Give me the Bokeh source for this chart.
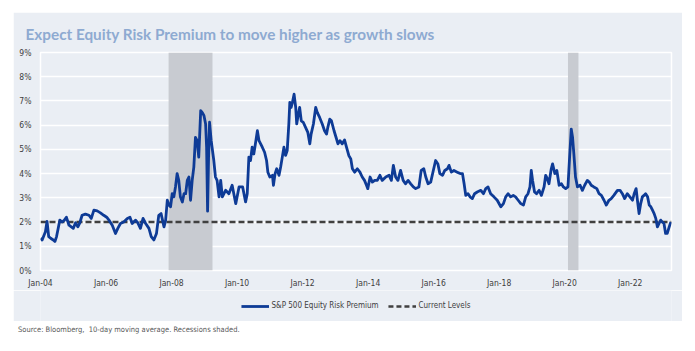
from bokeh.plotting import figure
from bokeh.models import Range1d, FixedTicker, Legend, LegendItem, Div
from bokeh.layouts import column
from bokeh.embed import file_html
from bokeh.resources import INLINE

# ---- data ----
erp_year = [
    2004.00, 2004.05, 2004.15, 2004.20, 2004.25, 2004.31, 2004.39, 2004.44, 2004.49, 2004.53,
    2004.59, 2004.66, 2004.73, 2004.79, 2004.87, 2004.94, 2005.00, 2005.07, 2005.14, 2005.20,
    2005.27, 2005.37, 2005.48, 2005.55, 2005.63, 2005.73, 2005.83, 2005.93, 2006.02, 2006.09,
    2006.19, 2006.29, 2006.36, 2006.44, 2006.54, 2006.65, 2006.73, 2006.80, 2006.90, 2006.97,
    2007.05, 2007.13, 2007.21, 2007.31, 2007.38, 2007.46, 2007.54, 2007.61, 2007.68, 2007.77,
    2007.82, 2007.87, 2007.92, 2007.97, 2008.02, 2008.07, 2008.12, 2008.17, 2008.22, 2008.27,
    2008.33, 2008.38, 2008.43, 2008.48, 2008.53, 2008.58, 2008.63, 2008.68, 2008.73, 2008.78,
    2008.83, 2008.89, 2008.94, 2008.99, 2009.04, 2009.07, 2009.10, 2009.13, 2009.16, 2009.21,
    2009.29, 2009.34, 2009.39, 2009.45,
    2009.50, 2009.55, 2009.65, 2009.75, 2009.85, 2009.96, 2010.06, 2010.17, 2010.26, 2010.31,
    2010.36, 2010.41, 2010.46, 2010.51, 2010.56, 2010.62, 2010.67, 2010.72, 2010.77, 2010.84,
    2010.90, 2010.94, 2011.00, 2011.08, 2011.11, 2011.16, 2011.21, 2011.28, 2011.33, 2011.38,
    2011.43, 2011.48, 2011.53, 2011.58, 2011.61, 2011.65, 2011.69, 2011.74, 2011.79, 2011.82,
    2011.87, 2011.91, 2011.96, 2012.02, 2012.09, 2012.16, 2012.22, 2012.26, 2012.33, 2012.40,
    2012.45, 2012.52, 2012.60, 2012.67, 2012.73, 2012.77, 2012.83, 2012.88, 2012.96, 2013.02,
    2013.08, 2013.14, 2013.21, 2013.28, 2013.34, 2013.41, 2013.47, 2013.52, 2013.59, 2013.67,
    2013.75, 2013.82, 2013.89, 2013.95, 2013.99, 2014.06, 2014.13, 2014.20, 2014.28, 2014.36,
    2014.43, 2014.54, 2014.64, 2014.71, 2014.77, 2014.84, 2014.91, 2014.99, 2015.07, 2015.14,
    2015.22, 2015.30, 2015.38, 2015.45, 2015.55, 2015.62, 2015.70, 2015.76, 2015.83, 2015.91,
    2015.99, 2016.06, 2016.13, 2016.19, 2016.27, 2016.34, 2016.42, 2016.47, 2016.54, 2016.62,
    2016.72, 2016.81,
    2016.88, 2016.93, 2016.98, 2017.05, 2017.11, 2017.18, 2017.25, 2017.33, 2017.44, 2017.52,
    2017.59, 2017.66, 2017.74, 2017.84, 2017.94, 2018.05, 2018.13, 2018.20, 2018.27, 2018.35,
    2018.43, 2018.50, 2018.58, 2018.66, 2018.74, 2018.81, 2018.88, 2018.94, 2018.98, 2019.02,
    2019.08, 2019.14, 2019.22, 2019.29, 2019.37, 2019.42, 2019.47, 2019.52, 2019.59, 2019.63,
    2019.70, 2019.76, 2019.83, 2019.90, 2019.96, 2020.03, 2020.10, 2020.15, 2020.20, 2020.24,
    2020.28, 2020.33, 2020.39, 2020.47, 2020.54, 2020.61, 2020.69, 2020.75, 2020.81, 2020.89,
    2020.98, 2021.05, 2021.12, 2021.20, 2021.27, 2021.35, 2021.42, 2021.50, 2021.61, 2021.69,
    2021.76, 2021.83, 2021.91, 2021.99, 2022.07, 2022.12, 2022.18, 2022.22, 2022.27, 2022.32,
    2022.37, 2022.42, 2022.47, 2022.53, 2022.58, 2022.63, 2022.68, 2022.73, 2022.78, 2022.83,
    2022.88, 2022.93, 2022.98, 2023.03, 2023.08, 2023.13, 2023.19, 2023.24,
]
erp_value = [
    1.33, 1.26, 1.60, 2.03, 1.40, 1.33, 1.26, 1.20, 1.40, 1.67,
    2.08, 2.00, 2.08, 2.20, 1.87, 1.80, 1.74, 1.97, 1.80, 1.97,
    2.28, 2.33, 2.28, 2.15, 2.49, 2.46, 2.38, 2.28, 2.20, 2.08,
    1.87, 1.53, 1.74, 1.94, 2.00, 2.15, 2.20, 1.94, 2.08, 1.97,
    1.74, 2.15, 1.94, 1.74, 1.40, 1.26, 1.53, 2.28, 2.35, 1.80,
    2.08, 2.90, 2.70, 2.63, 3.17, 3.04, 3.45, 4.00, 3.72, 3.04,
    2.83, 3.17, 3.17, 3.72, 3.86, 2.90, 3.72, 4.27, 5.50, 5.36,
    4.68, 6.60, 6.52, 6.39, 6.05, 5.09, 2.45, 4.68, 6.12, 5.36,
    4.54, 3.86, 3.72, 3.04,
    3.72, 3.04, 3.31, 3.17, 3.52, 2.76, 3.45, 3.45, 2.83, 3.17,
    4.68, 4.54, 5.09, 4.81, 5.23, 5.77, 5.36, 5.23, 5.09, 4.88,
    4.54, 4.06, 3.86, 3.93, 3.52, 4.00, 4.20, 3.93, 4.27, 4.68,
    5.09, 4.75, 4.95, 6.05, 6.94, 6.73, 6.94, 7.28, 6.73, 6.05,
    6.46, 6.73, 6.18, 6.12, 5.91, 5.70, 5.23, 5.63, 6.05, 6.73,
    6.52, 6.32, 6.05, 5.77, 5.63, 5.91, 6.25, 6.18, 5.77, 5.50,
    5.23, 5.36, 5.23, 5.39, 5.09, 4.75, 4.61, 4.20, 4.06, 4.20,
    4.06, 3.86, 3.72, 3.52, 3.38, 3.86, 3.65, 3.72, 3.72, 3.93,
    3.72, 3.86, 3.93, 3.72, 4.34, 3.86, 3.72, 4.13, 3.72, 3.58,
    3.72, 3.58, 3.45, 3.38, 3.45, 4.13, 4.20, 3.86, 3.58, 3.65,
    4.13, 4.54, 4.40, 4.00, 3.93, 4.13, 4.20, 4.34, 4.06, 4.13,
    4.06, 4.00,
    4.00, 3.58, 3.10, 3.17, 3.04, 2.97, 3.17, 3.24, 3.31, 3.17,
    3.38, 3.45, 3.17, 3.04, 2.90, 2.63, 2.76, 3.04, 3.17, 3.04,
    3.10, 3.04, 2.90, 2.76, 2.70, 3.04, 3.17, 3.45, 4.13, 3.72,
    3.24, 3.17, 3.31, 3.10, 3.45, 3.93, 3.79, 3.58, 4.20, 4.40,
    4.00, 4.13, 3.52, 3.58, 3.45, 3.38, 3.45, 4.68, 5.84, 5.50,
    4.81, 3.86, 3.45, 3.52, 3.31, 3.52, 3.72, 3.65, 3.52, 3.45,
    3.38, 3.17, 3.10, 2.90, 2.70, 2.90, 2.97, 3.10, 3.31, 3.31,
    3.17, 2.97, 3.17, 3.04, 2.90, 3.17, 3.38, 2.90, 2.35, 2.76,
    3.04, 3.10, 3.17, 3.04, 2.70, 2.63, 2.49, 2.35, 2.15, 1.80,
    1.94, 2.08, 2.00, 1.94, 1.53, 1.53, 1.80, 2.00,
]
current_level = 2.0
recession_start = [2007.91, 2020.10]
recession_end = [2009.25, 2020.42]
tick_years = [2004, 2006, 2008, 2010, 2012, 2014, 2016, 2018, 2020, 2022]
tick_labels = ["Jan-04", "Jan-06", "Jan-08", "Jan-10", "Jan-12",
               "Jan-14", "Jan-16", "Jan-18", "Jan-20", "Jan-22"]
y_ticks = [0, 1, 2, 3, 4, 5, 6, 7, 8, 9]
series_names = ["S&P 500 Equity Risk Premium", "Current Levels"]

PANEL = "#EAEEF4"
NARROW = "DejaVu Sans Condensed"
ERP_COLOR = "#0E3B96"
CUR_COLOR = "#404040"

x_start = 2004.0
x_end = 2023.26
p = figure(width=669, height=278, output_backend="svg", toolbar_location=None,
           x_range=Range1d(x_start, x_end), y_range=Range1d(0, 9),
           min_border_left=27, min_border_right=11, min_border_top=40, min_border_bottom=19,
           background_fill_color=PANEL, border_fill_color=PANEL)

p.title.text = "Expect Equity Risk Premium to move higher as growth slows"
p.title.text_font = "Lato"
p.title.text_font_size = "15.3px"
p.title.text_font_style = "bold"
p.title.text_color = "#8EAAD1"
p.title.align = "left"
p.title.offset = -15
p.title.standoff = 19

p.outline_line_color = "white"
p.outline_line_width = 1.5

p.xgrid.grid_line_color = None
p.ygrid.grid_line_color = "white"
p.ygrid.grid_line_width = 1.5
p.ygrid.ticker = FixedTicker(ticks=y_ticks)

p.xaxis.ticker = FixedTicker(ticks=tick_years)
p.xaxis.major_label_overrides = {t: l for t, l in zip(tick_years, tick_labels)}
p.yaxis.ticker = FixedTicker(ticks=y_ticks)
p.yaxis.major_label_overrides = {t: f"{t}%" for t in y_ticks}
for ax in (p.xaxis, p.yaxis):
    ax.axis_line_color = None
    ax.major_tick_line_color = None
    ax.minor_tick_line_color = None
    ax.major_tick_out = 0
    ax.major_label_text_font = NARROW
    ax.major_label_text_font_size = "8.5px"
    ax.major_label_text_color = "#404040"
p.xaxis.major_label_standoff = 7
p.yaxis.major_label_standoff = 9

p.quad(left=recession_start, right=recession_end, bottom=0, top=9,
       fill_color="#C8CBD1", line_color=None)

p.line(x=[x_start, x_end], y=[current_level, current_level],
       line_color=CUR_COLOR, line_width=2.5, line_dash="6 3")
p.line(x=erp_year, y=erp_value, line_color=ERP_COLOR, line_width=2.8,
       line_join="round")

# ---- legend strip (below the chart, inside the shaded panel) ----
# Same series drawn again, but this strip's y range lies below the data,
# so only the legend keys are visible.
lg = figure(width=669, height=31, output_backend="svg", toolbar_location=None,
            x_range=Range1d(x_start, x_end), y_range=Range1d(-2, -1),
            x_axis_location=None, y_axis_location=None,
            min_border=0, background_fill_color=PANEL, border_fill_color=PANEL,
            outline_line_color=None)
lg.xgrid.grid_line_color = None
lg.ygrid.grid_line_color = None
k_erp = lg.line(x=erp_year, y=erp_value, line_color=ERP_COLOR, line_width=2.8)
k_cur = lg.line(x=[x_start, x_end], y=[current_level, current_level],
                line_color=CUR_COLOR, line_width=2.5, line_dash="5 3")
legend = Legend(items=[LegendItem(label=series_names[0], renderers=[k_erp]),
                       LegendItem(label=series_names[1], renderers=[k_cur])],
                orientation="horizontal", location="center")
legend.background_fill_alpha = 0
legend.border_line_color = None
legend.padding = 0
legend.margin = 0
legend.label_text_font = NARROW
legend.label_text_font_size = "8px"
legend.label_text_color = "#404040"
legend.glyph_width = 28
legend.glyph_height = 12
legend.label_standoff = 3
legend.spacing = 9
lg.add_layout(legend)

src = Div(text="Source: Bloomberg,&nbsp; 10-day moving average. Recessions shaded.",
          styles={"font-family": NARROW, "font-size": "7.5px", "color": "#595959",
                  "margin-top": "4px"})

layout = column(p, lg, src, styles={"margin-left": "13px", "margin-top": "12px"})
open("out.html", "w").write(file_html(layout, INLINE))
